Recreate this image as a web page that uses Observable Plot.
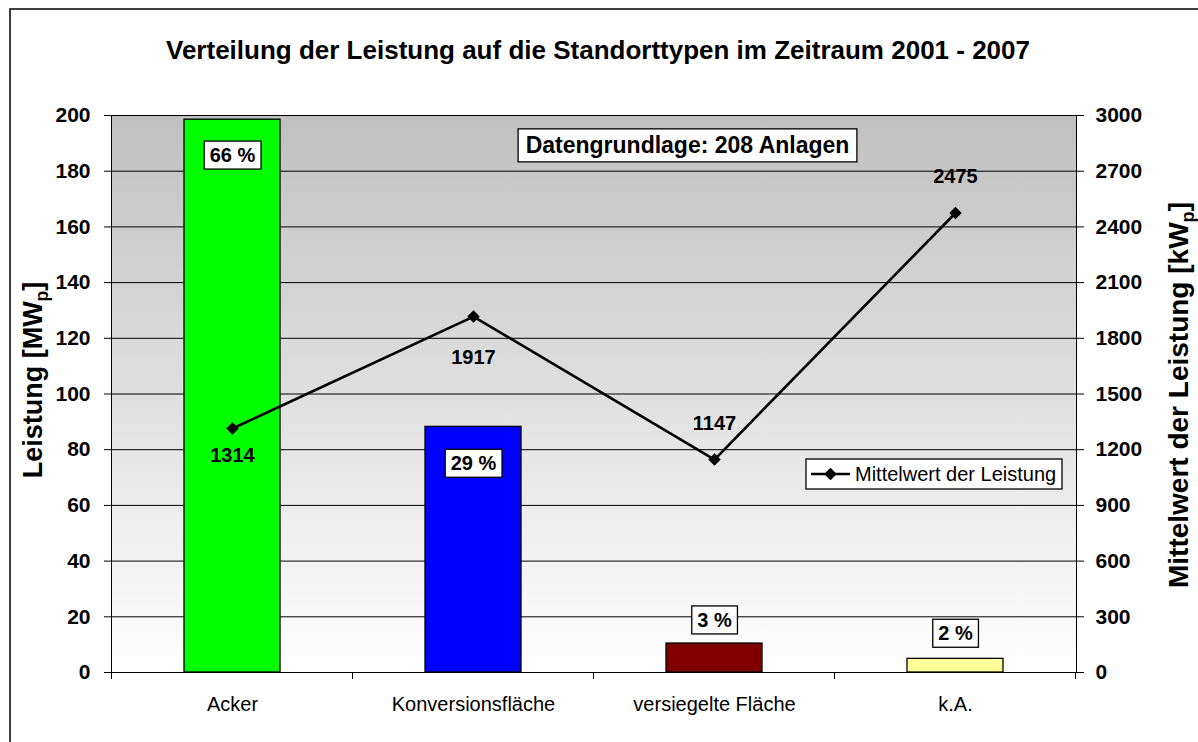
<!DOCTYPE html>
<html><head><meta charset="utf-8">
<script src="https://cdn.jsdelivr.net/npm/d3@7"></script>
<script src="https://cdn.jsdelivr.net/npm/@observablehq/plot@0.6"></script>
<style>body{margin:0;background:#fff;} svg{display:block}</style>
</head><body><div id="chart"></div>
<script>
// ---- data ----
const categories = ["Acker", "Konversionsfläche", "versiegelte Fläche", "k.A."];
const leistung = [198.5, 88.2, 10.4, 4.9];          // MWp (left axis)
const mittelwert = [1314, 1917, 1147, 2475];         // kWp (right axis)
const prozent = ["66 %", "29 %", "3 %", "2 %"];
const leftTicks = [0, 20, 40, 60, 80, 100, 120, 140, 160, 180, 200];
const rightTicks = [0, 300, 600, 900, 1200, 1500, 1800, 2100, 2400, 2700, 3000];
const titleText = "Verteilung der Leistung auf die Standorttypen im Zeitraum 2001 - 2007";
const noteText = "Datengrundlage: 208 Anlagen";
const legendText = "Mittelwert der Leistung";
const leftTitle = ["Leistung [MW", "p", "]"];
const rightTitle = ["Mittelwert der Leistung [kW", "p", "]"];

// ---- styles ----
const barColors = ["#00ff00", "#0000ff", "#800000", "#ffff99"];
const FONT = "Arial, 'Liberation Sans', Helvetica, sans-serif";
const ratio = rightTicks[rightTicks.length - 1] / leftTicks[leftTicks.length - 1];

const data = categories.map((c, i) => ({category: c, leistung: leistung[i], mittelwert: mittelwert[i], prozent: prozent[i]}));

const meanDy = [27, 41, -36, -36.5];
const pctDy = [36, 37, -23, -25];

const plot = Plot.plot({
  width: 1198, height: 742,
  marginLeft: 111, marginRight: 122, marginTop: 115, marginBottom: 70,
  style: {fontFamily: FONT, background: "white", overflow: "visible"},
  x: {domain: categories, paddingInner: 0.6, paddingOuter: 0.3, label: null},
  y: {domain: [0, 200], label: null},
  color: {type: "identity"},
  marks: [
    Plot.frame({fill: "url(#bg)", stroke: null}),
    Plot.ruleY(leftTicks, {stroke: "#000", strokeWidth: 1}),
    Plot.frame({stroke: "#000", strokeWidth: 1}),
    Plot.barY(data, {x: "category", y: "leistung", fill: (d, i) => barColors[i], stroke: "#000", strokeWidth: 1.3}),
    Plot.line(data, {x: "category", y: d => d.mittelwert / ratio, stroke: "#000", strokeWidth: 2.6}),
    Plot.dot(data, {x: "category", y: d => d.mittelwert / ratio, symbol: "diamond2", r: 5.6, fill: "#000", stroke: "none"}),
    ...data.map((d, i) => Plot.text([d], {x: "category", y: e => e.mittelwert / ratio, text: e => String(e.mittelwert), dy: meanDy[i], fontSize: 20, fontWeight: "bold", fill: "#000", lineAnchor: "middle"})),
    ...data.map((d, i) => Plot.text([d], {x: "category", y: "leistung", text: "prozent", dy: pctDy[i], fontSize: 20, fontWeight: "bold", fill: "#000", lineAnchor: "middle", className: "boxed"})),
    Plot.text([noteText], {frameAnchor: "top", dx: 93.5, dy: 30.5, fontSize: 23, fontWeight: "bold", fill: "#000", lineAnchor: "middle", className: "boxednote"}),
    Plot.text([titleText], {frameAnchor: "top", dx: 4, dy: -65, fontSize: 26, fontWeight: "bold", fill: "#000", lineAnchor: "middle"}),
    Plot.axisY(leftTicks, {anchor: "left", tickSize: 7, tickPadding: 14, fontSize: 21, fontWeight: "bold", label: null, tickFormat: d => String(d)}),
    Plot.axisY(leftTicks, {anchor: "right", tickSize: 7, tickPadding: 12, fontSize: 21, fontWeight: "bold", label: null, tickFormat: (d, i) => String(rightTicks[leftTicks.indexOf(d)])}),
    Plot.axisX({tickSize: 0, tickPadding: 24, fontSize: 20, label: null})
  ]
});

document.getElementById("chart").append(plot);
const svg = d3.select(plot);

// gradient background
const defs = svg.insert("defs", ":first-child");
const grad = defs.append("linearGradient").attr("id", "bg").attr("x1", 0).attr("y1", 0).attr("x2", 0).attr("y2", 1);
grad.append("stop").attr("offset", "0%").attr("stop-color", "#c0c0c0");
grad.append("stop").attr("offset", "100%").attr("stop-color", "#ffffff");

// band boundary ticks on x axis
const xs = plot.scale("x"), ys = plot.scale("y");
const bw = xs.bandwidth;
const step = xs.step != null ? xs.step : bw / (1 - 0.6);
const y0 = ys.apply(0);
const bounds = categories.map(c => xs.apply(c) + bw / 2 - step / 2);
bounds.push(xs.apply(categories[categories.length - 1]) + bw / 2 + step / 2);
svg.append("g").selectAll("line").data(bounds).join("line")
  .attr("x1", d => d).attr("x2", d => d).attr("y1", y0).attr("y2", y0 + 7)
  .attr("stroke", "#000").attr("stroke-width", 1);

// boxes behind labels
function boxIt(sel, padX, padY) {
  sel.each(function () {
    const b = this.getBBox();
    const r = document.createElementNS("http://www.w3.org/2000/svg", "rect");
    r.setAttribute("x", b.x - padX); r.setAttribute("y", b.y - padY);
    r.setAttribute("width", b.width + 2 * padX); r.setAttribute("height", b.height + 2 * padY);
    r.setAttribute("fill", "#fff"); r.setAttribute("stroke", "#000"); r.setAttribute("stroke-width", 1.3);
    const t = this.getAttribute("transform"); if (t) r.setAttribute("transform", t);
    this.parentNode.insertBefore(r, this);
  });
}
boxIt(svg.selectAll("g.boxed text"), 5.5, 3);
boxIt(svg.selectAll("g.boxednote text"), 7.5, 3.5);

// axis titles with subscript
function axisTitle(parts, x, y, size) {
  const t = svg.append("text").attr("transform", `translate(${x},${y}) rotate(-90)`)
    .attr("text-anchor", "middle").attr("font-size", size).attr("font-weight", "bold").attr("fill", "#000");
  t.append("tspan").text(parts[0]);
  t.append("tspan").attr("font-size", size * 0.65).attr("dy", 6).text(parts[1]);
  t.append("tspan").attr("dy", -6).text(parts[2]);
}
axisTitle(leftTitle, 42, 380, 27);
axisTitle(rightTitle, 1188, 395, 28);

// legend
const lg = svg.append("g");
lg.append("rect").attr("x", 806).attr("y", 459).attr("width", 256).attr("height", 30)
  .attr("fill", "#fff").attr("stroke", "#000").attr("stroke-width", 1.3);
lg.append("line").attr("x1", 811).attr("x2", 850).attr("y1", 474).attr("y2", 474).attr("stroke", "#000").attr("stroke-width", 2.6);
lg.append("path").attr("transform", "translate(830.5,474)").attr("d", d3.symbol(d3.symbolDiamond2, Math.PI * 5.6 * 5.6)()).attr("fill", "#000");
lg.append("text").attr("x", 855).attr("y", 481).attr("text-anchor", "start").attr("font-size", 20).attr("fill", "#000").text(legendText);

// outer border
svg.append("rect").attr("x", 10).attr("y", 9).attr("width", 1200).attr("height", 760)
  .attr("fill", "none").attr("stroke", "#000").attr("stroke-width", 1.5);
</script>
</body></html>
